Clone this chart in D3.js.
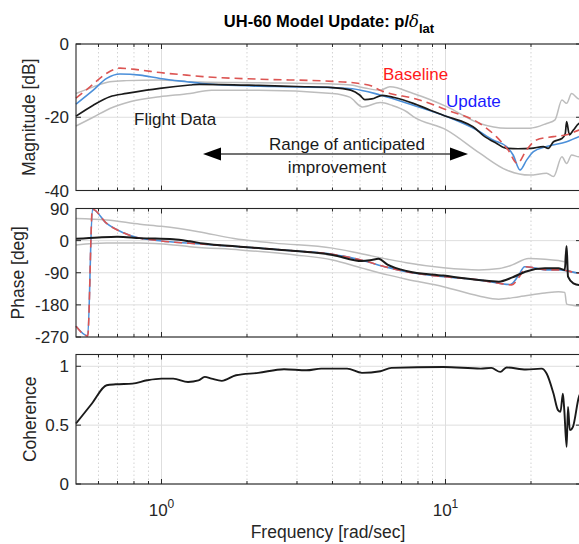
<!DOCTYPE html>
<html><head><meta charset="utf-8">
<script src="https://cdn.jsdelivr.net/npm/d3@7"></script>
<style>
html,body{margin:0;padding:0;background:#fff;}
svg{display:block;font-family:"Liberation Sans",Arial,Helvetica,sans-serif;}
</style></head>
<body>
<svg id="c" width="579" height="544"></svg>
<script>
// ---------- DATA ----------
const title = "UH-60 Model Update: p/";
const xMajorTicks = [1, 10];
const xMinorTicks = [0.6,0.7,0.8,0.9,2,3,4,5,6,7,8,9,20,30];
const magTicks = [0, -20, -40];
const phaseTicks = [90, 0, -90, -180, -270];
const cohTicks = [0, 0.5, 1];

// magnitude [freq, dB]
const magFlight = [[0.5,-19.7],[0.575,-16.7],[0.658,-14.4],[0.753,-13.5],[0.886,-12.6],[0.986,-12.1],[1.26,-11.2],[1.36,-11.0],[2.2,-11.3],[3.0,-11.6],[4.0,-11.9],[4.64,-12.6],[5.0,-14.0],[5.2,-15.2],[5.5,-15.0],[6.0,-14.0],[6.6,-14.6],[7.7,-16.2],[8.8,-18.0],[10.1,-19.8],[11.3,-21.0],[12.5,-22.6],[13.6,-25.0],[15.1,-27.1],[16.4,-28.5],[18,-28.6],[20,-28.5],[22.1,-28.0],[23.0,-28.5],[24.0,-26.7],[25.7,-25.8],[26.4,-24.5],[26.7,-21.2],[27.3,-24.8],[28.2,-23.5],[29.5,-21.7],[30,-21.5]];
const magUpper = [[0.5,-13.5],[0.575,-11.7],[0.658,-10.3],[0.753,-10.0],[0.986,-9.8],[1.26,-10.3],[1.36,-10.4],[2.2,-10.6],[4.0,-10.9],[4.64,-11.2],[5.2,-12.0],[5.88,-12.6],[6.37,-11.7],[7.7,-13.5],[10.1,-17.1],[13.2,-21.7],[16.4,-23.0],[19.8,-23.0],[22.7,-21.7],[24.3,-20.7],[25.7,-15.3],[26.7,-16.2],[27.8,-13.5],[29.5,-15.0],[30,-14.5]];
const magLower = [[0.5,-22.4],[0.575,-20.0],[0.658,-17.6],[0.78,-15.7],[0.986,-14.4],[1.26,-13.5],[1.5,-12.6],[2.2,-12.6],[4.0,-13.5],[4.6,-14.5],[5.1,-17.2],[5.9,-16.0],[6.5,-16.8],[7.3,-18.5],[7.7,-19.8],[10.1,-23.5],[13.2,-29.8],[16.4,-34.4],[19.8,-35.8],[22.7,-35.3],[24.0,-36.2],[25.7,-30.8],[26.7,-32.6],[27.8,-30.3],[29.5,-30.8],[30,-30.5]];
const magBaseline = [[0.5,-14.8],[0.56,-11.7],[0.641,-8.0],[0.714,-6.6],[0.84,-7.1],[0.988,-7.8],[1.227,-8.5],[1.4,-8.9],[2.2,-9.6],[4.0,-10.2],[5.0,-10.8],[5.5,-11.5],[5.88,-12.6],[6.37,-13.5],[7.7,-14.8],[10.1,-18.0],[13.2,-21.7],[15.1,-25.3],[16.6,-28.9],[17.9,-32.6],[19.3,-28.9],[20.9,-26.2],[24.0,-25.3],[26.7,-24.8],[29.5,-23.5],[30,-23.3]];
const magUpdate = [[0.5,-16.4],[0.575,-12.6],[0.641,-9.4],[0.714,-8.2],[0.84,-8.5],[0.988,-9.4],[1.227,-10.3],[1.4,-10.8],[1.63,-11.2],[2.5,-11.6],[4.0,-11.9],[4.7,-12.2],[5.88,-13.9],[7.7,-16.7],[10.1,-19.8],[12.9,-23.5],[14.7,-26.2],[16.4,-28.0],[17.3,-30.3],[18.3,-34.4],[19.3,-31.7],[20.4,-29.4],[22.7,-28.0],[26.7,-26.7],[29.5,-25.3],[30,-25.1]];

// phase [freq, deg]
const phaseFlight = [[0.5,5],[0.6,9],[0.7,11],[0.84,7],[1.1,4],[1.26,-2],[1.4,-8],[1.89,-17],[2.96,-29],[4.0,-40],[5.08,-57],[5.5,-54],[5.8,-51],[6.25,-67],[7.28,-85],[9.83,-98],[13.1,-110],[15.4,-115],[17.2,-103],[19.1,-87],[22.4,-77.5],[25.0,-77.5],[26.3,-82],[26.7,-15],[27.0,-101],[28.2,-119.5],[29.5,-124],[30,-121]];
const phaseUpper = [[0.5,62],[0.64,58],[0.84,46],[1.0,40],[1.35,25],[1.8,6],[2.5,-7],[4.0,-21],[5.0,-36],[6.25,-52],[7.28,-62],[9.83,-76],[13.1,-82],[15.5,-78],[17.2,-68],[19.6,-50],[22.4,-52],[25.0,-56],[26.3,-59],[26.6,-17],[26.9,-82],[28,-88],[29.5,-91],[30,-92]];
const phaseLower = [[0.5,-12],[0.64,-7],[0.84,-7],[1.1,-12],[1.26,-17],[1.89,-26],[2.96,-40],[4.0,-54],[5.08,-77],[6.25,-96],[7.28,-108],[9.83,-129],[13.1,-155],[15.4,-164],[18.2,-157],[22.4,-147],[25.0,-143],[26.3,-145],[26.7,-178],[28,-181],[29.5,-183],[30,-183]];
const phaseBaseline = [[0.5,-240],[0.55,-267],[0.571,88],[0.641,48],[0.734,22],[0.84,6.5],[0.936,2],[1.0,-1],[1.26,-7.5],[1.89,-17],[2.96,-29],[4.0,-38],[5.08,-55],[6.25,-75],[7.28,-87],[9.83,-101],[13.1,-110],[15.4,-119.5],[17.1,-124],[18.2,-101],[19.3,-73],[20.4,-76],[22.7,-82],[25.3,-82],[29.5,-91.5],[30,-92]];
const phaseUpdate = [[0.5,-240],[0.55,-267],[0.571,88],[0.641,48],[0.734,22],[0.84,6.5],[0.936,2],[1.0,-1],[1.26,-7.5],[1.89,-17],[2.96,-29],[4.0,-38],[5.08,-55],[6.25,-75],[7.28,-87],[9.83,-101],[13.1,-110],[15.4,-119.5],[16.9,-123],[18.0,-100],[19.0,-73],[20.4,-76],[22.7,-82],[25.3,-82],[29.5,-91.5],[30,-92]];

// coherence [freq, value]
const coherence = [[0.5,0.514],[0.569,0.684],[0.641,0.839],[0.69,0.847],[0.79,0.853],[0.89,0.881],[1.0,0.895],[1.1,0.895],[1.24,0.867],[1.35,0.88],[1.42,0.91],[1.5,0.895],[1.63,0.876],[1.83,0.924],[2.19,0.944],[2.7,0.975],[3.24,0.966],[3.65,0.98],[4.5,0.98],[5.08,0.944],[5.9,0.958],[6.45,0.986],[9.83,0.994],[13.3,0.98],[14.5,0.986],[15.6,0.952],[16.4,0.99],[19.2,0.972],[21.8,0.98],[22.7,0.938],[24.0,0.768],[24.9,0.627],[25.4,0.613],[25.9,0.768],[26.2,0.627],[26.7,0.316],[27.0,0.655],[27.4,0.458],[28.1,0.486],[29.5,0.74],[30,0.78]];

// ---------- DRAW ----------
const svg = d3.select("#c");
const FONT = 17, LFONT = 17.5;
const x = d3.scaleLog().domain([0.5, 30]).range([76, 581]);

const panels = [
  {key:"mag", domain:[-40,0], range:[190.5,44], ticks:magTicks, label:"Magnitude [dB]", labelX:35},
  {key:"phase", domain:[-270,90], range:[337,208.5], ticks:phaseTicks, label:"Phase [deg]", labelX:24},
  {key:"coh", domain:[0,1.1], range:[484,354.5], ticks:cohTicks, label:"Coherence", labelX:36}
];

panels.forEach(p => {
  p.y = d3.scaleLinear().domain(p.domain).range(p.range);
  const g = svg.append("g");
  const [yb, yt] = p.range;
  g.selectAll(".mg").data(xMinorTicks).join("line")
    .attr("x1", d => x(d)).attr("x2", d => x(d)).attr("y1", yt).attr("y2", yb)
    .attr("stroke", "#c8c8c8").attr("stroke-width", 0.8).attr("stroke-dasharray", "1.5,2.5");
  g.selectAll(".Mg").data(xMajorTicks).join("line")
    .attr("x1", d => x(d)).attr("x2", d => x(d)).attr("y1", yt).attr("y2", yb)
    .attr("stroke", "#dedede").attr("stroke-width", 1);
  g.selectAll(".hg").data(p.ticks).join("line")
    .attr("x1", 76).attr("x2", 581).attr("y1", d => p.y(d)).attr("y2", d => p.y(d))
    .attr("stroke", "#dedede").attr("stroke-width", 1);
  p.g = g;
});

function drawLine(p, data, color, width, dash) {
  const line = d3.line().x(d => x(d[0])).y(d => p.y(d[1])).curve(d3.curveMonotoneX);
  const path = p.g.append("path").datum(data).attr("d", line)
    .attr("fill", "none").attr("stroke", color).attr("stroke-width", width)
    .attr("stroke-linejoin", "round");
  if (dash) path.attr("stroke-dasharray", dash);
}

const [pm, pp, pc] = panels;
const GRAY = "#bdbdbd", BLUE = "#4b8fd9", RED = "#dc5553", BLACK = "#1a1a1a";
drawLine(pm, magUpper, GRAY, 1.5);
drawLine(pm, magLower, GRAY, 1.5);
drawLine(pm, magUpdate, BLUE, 1.6);
drawLine(pm, magFlight, BLACK, 1.7);
drawLine(pm, magBaseline, RED, 1.6, "8,5");

drawLine(pp, phaseUpper, GRAY, 1.5);
drawLine(pp, phaseLower, GRAY, 1.5);
drawLine(pp, phaseUpdate, BLUE, 1.6);
drawLine(pp, phaseBaseline, RED, 1.6, "8,5");
drawLine(pp, phaseFlight, BLACK, 2);

drawLine(pc, coherence, BLACK, 1.9);

panels.forEach(p => {
  const g = svg.append("g");
  const [yb, yt] = p.range;
  g.append("rect").attr("x", 76).attr("y", yt).attr("width", 505).attr("height", yb - yt)
    .attr("fill", "none").attr("stroke", "#262626").attr("stroke-width", 1.1);
  const allX = xMajorTicks.map(d => [d, 5]).concat(xMinorTicks.map(d => [d, 3]));
  allX.forEach(([d, L]) => {
    g.append("line").attr("x1", x(d)).attr("x2", x(d)).attr("y1", yb).attr("y2", yb - L).attr("stroke", "#262626");
    g.append("line").attr("x1", x(d)).attr("x2", x(d)).attr("y1", yt).attr("y2", yt + L).attr("stroke", "#262626");
  });
  g.selectAll(".yt").data(p.ticks).join("line")
    .attr("x1", 76).attr("x2", 81).attr("y1", d => p.y(d)).attr("y2", d => p.y(d)).attr("stroke", "#262626");
  g.selectAll(".yt2").data(p.ticks).join("line")
    .attr("x1", 576).attr("x2", 581).attr("y1", d => p.y(d)).attr("y2", d => p.y(d)).attr("stroke", "#262626");
  g.selectAll(".yl").data(p.ticks).join("text")
    .attr("x", 69).attr("y", d => p.y(d) + 6).attr("text-anchor", "end")
    .attr("font-size", FONT).attr("fill", "#262626").text(d => d);
  g.append("text").attr("transform", `translate(${p.labelX},${(yb + yt) / 2}) rotate(-90)`)
    .attr("text-anchor", "middle").attr("font-size", LFONT).attr("fill", "#262626").text(p.label);
});

xMajorTicks.forEach(d => {
  const t = svg.append("text").attr("x", x(d)).attr("y", 516).attr("text-anchor", "middle")
    .attr("font-size", FONT).attr("fill", "#262626");
  t.append("tspan").text("10");
  t.append("tspan").attr("dy", -8).attr("font-size", 12).text(Math.round(Math.log10(d)));
});
svg.append("text").attr("x", 328).attr("y", 538).attr("text-anchor", "middle")
  .attr("font-size", LFONT).attr("fill", "#262626").text("Frequency [rad/sec]");

const tt = svg.append("text").attr("x", 329).attr("y", 27).attr("text-anchor", "middle")
  .attr("font-size", 16.5).attr("font-weight", "bold").attr("fill", "#000");
tt.append("tspan").text(title);
tt.append("tspan").attr("font-style", "italic").attr("font-weight", "normal")
  .attr("font-family", "'DejaVu Serif','Liberation Serif',serif").text("δ");
tt.append("tspan").attr("dy", 6).attr("font-size", 13).text("lat");

svg.append("text").attr("x", 383).attr("y", 80).attr("font-size", 17).attr("fill", "#ff1a1a").text("Baseline");
svg.append("text").attr("x", 446).attr("y", 107).attr("font-size", 17).attr("fill", "#1a1aff").text("Update");
svg.append("text").attr("x", 134).attr("y", 125).attr("font-size", 17).attr("fill", "#1a1a1a").text("Flight Data");
svg.append("text").attr("x", 347).attr("y", 150).attr("text-anchor", "middle").attr("font-size", 17).attr("fill", "#1a1a1a").text("Range of anticipated");
svg.append("text").attr("x", 337).attr("y", 173).attr("text-anchor", "middle").attr("font-size", 17).attr("fill", "#1a1a1a").text("improvement");

const ay = 154, ax1 = 203, ax2 = 468;
svg.append("line").attr("x1", ax1 + 10).attr("x2", ax2 - 10).attr("y1", ay).attr("y2", ay)
  .attr("stroke", "#444").attr("stroke-width", 1.6);
svg.append("path").attr("d", `M${ax1},${ay} L${ax1 + 18},${ay - 6.5} L${ax1 + 18},${ay + 6.5} Z`).attr("fill", "#000");
svg.append("path").attr("d", `M${ax2},${ay} L${ax2 - 18},${ay - 6.5} L${ax2 - 18},${ay + 6.5} Z`).attr("fill", "#000");
</script>
</body></html>
